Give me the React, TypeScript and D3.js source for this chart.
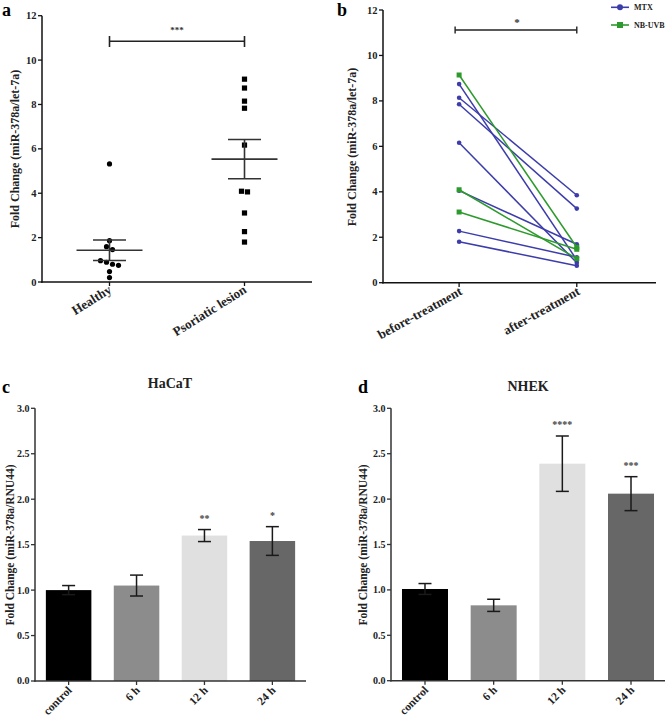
import React from "react";
import * as d3 from "d3";

// ---------- data ----------
const groupsA = ["Healthy", "Psoriatic lesion"];
const healthy = [5.32, 1.86, 1.59, 1.46, 0.96, 0.89, 0.8, 0.75, 0.47, 0.2];
const psoriatic = [9.14, 8.74, 8.15, 7.83, 6.17, 4.09, 4.06, 3.11, 2.27, 1.8];
const ticksA = [0, 2, 4, 6, 8, 10, 12];

const timepointsB = ["before-treatment", "after-treatment"];
const mtxBefore = [8.74, 8.14, 7.85, 6.16, 4.05, 2.27, 1.8];
const mtxAfter = [1.0, 3.85, 3.26, 0.88, 1.69, 1.12, 0.75];
const uvbBefore = [9.14, 4.09, 3.11];
const uvbAfter = [1.56, 1.06, 1.47];
const ticksB = [0, 2, 4, 6, 8, 10, 12];

const conditions = ["control", "6 h", "12 h", "24 h"];
const hacatMean = [1.0, 1.05, 1.6, 1.54];
const hacatSem = [0.05, 0.115, 0.066, 0.158];
const hacatStars = ["", "", "**", "*"];
const nhekMean = [1.01, 0.83, 2.39, 2.06];
const nhekSem = [0.06, 0.067, 0.305, 0.187];
const nhekStars = ["", "", "****", "***"];
const ticksCD = [0, 0.5, 1, 1.5, 2, 2.5, 3];
const barColors = ["#000000", "#8c8c8c", "#e0e0e0", "#676767"];

const MTX_COLOR = "#3c3cab";
const UVB_COLOR = "#2d9a2d";
const FONT = "'Liberation Serif', 'Times New Roman', serif";

// beeswarm-like binning: groups of close values spread horizontally
function spread(values: number[], bin: number, step: number) {
  const idx = values.map((v, i) => i).sort((a, b) => values[b] - values[a]);
  const off = new Array(values.length).fill(0);
  let i = 0;
  while (i < idx.length) {
    let j = i + 1;
    while (j < idx.length && values[idx[i]] - values[idx[j]] < bin) j++;
    const n = j - i;
    for (let k = 0; k < n; k++) off[idx[i + k]] = (k - (n - 1) / 2) * step;
    i = j;
  }
  return off;
}

function YAxis({ scale, ticks, x, fmt, size = 10, color = "#111" }: any) {
  const [r0, r1] = scale.range();
  return (
    <g>
      <line x1={x} x2={x} y1={r0 + 0.75} y2={r1} stroke={color} strokeWidth={1.5} />
      {ticks.map((t: number) => (
        <g key={t}>
          <line x1={x - 4} x2={x} y1={scale(t)} y2={scale(t)} stroke={color} strokeWidth={1.3} />
          <text x={x - 5.5} y={scale(t)} dy="0.34em" textAnchor="end" fontSize={size} fontWeight="bold" fill="#222">
            {fmt(t)}
          </text>
        </g>
      ))}
    </g>
  );
}

function PanelA() {
  const y = d3.scaleLinear().domain([0, 12]).range([282, 15.7]);
  const x = d3.scalePoint().domain(groupsA).range([42, 312]).padding(0.5);
  const series = [healthy, psoriatic];
  return (
    <g>
      <text x={2} y={16} fontSize={18} fontWeight="bold">a</text>
      <YAxis scale={y} ticks={ticksA} x={42} fmt={(d: number) => String(d)} size={10.5} />
      <line x1={41.25} x2={312} y1={282} y2={282} stroke="#111" strokeWidth={1.5} />
      {groupsA.map((g) => (
        <g key={g}>
          <line x1={x(g)} x2={x(g)} y1={282} y2={286} stroke="#111" strokeWidth={1.3} />
          <text transform={`translate(${x(g)! + 3},${292}) rotate(-32)`} textAnchor="end" fontSize={13} fontWeight="bold" fill="#222">
            {g}
          </text>
        </g>
      ))}
      <text transform="translate(19,149) rotate(-90)" textAnchor="middle" fontSize={12} fontWeight="bold" fill="#222">
        Fold Change (miR-378a/let-7a)
      </text>
      {series.map((vals, si) => {
        const cx = x(groupsA[si])!;
        const off = spread(vals, 0.25, 6);
        const m = d3.mean(vals)!;
        const sem = d3.deviation(vals)! / Math.sqrt(vals.length);
        return (
          <g key={si}>
            {vals.map((v, i) =>
              si === 0 ? (
                <circle key={i} cx={cx + off[i]} cy={y(v)} r={2.6} fill="#000" />
              ) : (
                <rect key={i} x={cx + off[i] - 2.6} y={y(v) - 2.6} width={5.2} height={5.2} fill="#000" />
              )
            )}
            <line x1={cx - 33} x2={cx + 33} y1={y(m)} y2={y(m)} stroke="#333" strokeWidth={1.6} />
            <line x1={cx} x2={cx} y1={y(m - sem)} y2={y(m + sem)} stroke="#333" strokeWidth={1.6} />
            <line x1={cx - 16.5} x2={cx + 16.5} y1={y(m - sem)} y2={y(m - sem)} stroke="#333" strokeWidth={1.6} />
            <line x1={cx - 16.5} x2={cx + 16.5} y1={y(m + sem)} y2={y(m + sem)} stroke="#333" strokeWidth={1.6} />
          </g>
        );
      })}
      <line x1={x(groupsA[0])} x2={x(groupsA[1])} y1={41.3} y2={41.3} stroke="#222" strokeWidth={1.6} />
      <line x1={x(groupsA[0])} x2={x(groupsA[0])} y1={36} y2={47} stroke="#222" strokeWidth={1.6} />
      <line x1={x(groupsA[1])} x2={x(groupsA[1])} y1={36} y2={47} stroke="#222" strokeWidth={1.6} />
      <text x={177} y={33} textAnchor="middle" fontSize={9} fontWeight="bold" fill="#333">***</text>
    </g>
  );
}

function PanelB() {
  const y = d3.scaleLinear().domain([0, 12]).range([282.7, 10]);
  const x = d3.scalePoint().domain(timepointsB).range([383, 656]).padding(0.66).align(0.49);
  const x0 = x(timepointsB[0])!;
  const x1 = x(timepointsB[1])!;
  return (
    <g>
      <text x={337} y={16} fontSize={18} fontWeight="bold">b</text>
      <YAxis scale={y} ticks={ticksB} x={383} fmt={(d: number) => String(d)} size={10.5} />
      <line x1={382.25} x2={656} y1={282.7} y2={282.7} stroke="#111" strokeWidth={1.5} />
      {timepointsB.map((g) => (
        <g key={g}>
          <line x1={x(g)} x2={x(g)} y1={282.7} y2={287} stroke="#111" strokeWidth={1.3} />
          <text transform={`translate(${x(g)! + 4},${294}) rotate(-29)`} textAnchor="end" fontSize={13} fontWeight="bold" fill="#222">
            {g}
          </text>
        </g>
      ))}
      <text transform="translate(356,147) rotate(-90)" textAnchor="middle" fontSize={12} fontWeight="bold" fill="#222">
        Fold Change (miR-378a/let-7a)
      </text>
      {mtxBefore.map((v, i) => (
        <g key={"m" + i}>
          <line x1={x0} x2={x1} y1={y(v)} y2={y(mtxAfter[i])} stroke={MTX_COLOR} strokeWidth={1.5} />
          <circle cx={x0} cy={y(v)} r={2.3} fill={MTX_COLOR} />
          <circle cx={x1} cy={y(mtxAfter[i])} r={2.3} fill={MTX_COLOR} />
        </g>
      ))}
      {uvbBefore.map((v, i) => (
        <g key={"u" + i}>
          <line x1={x0} x2={x1} y1={y(v)} y2={y(uvbAfter[i])} stroke={UVB_COLOR} strokeWidth={1.5} />
          <rect x={x0 - 2.5} y={y(v) - 2.5} width={5} height={5} fill={UVB_COLOR} />
          <rect x={x1 - 2.5} y={y(uvbAfter[i]) - 2.5} width={5} height={5} fill={UVB_COLOR} />
        </g>
      ))}
      <line x1={x0 - 4} x2={x1} y1={30} y2={30} stroke="#222" strokeWidth={1.4} />
      <line x1={x0 - 4} x2={x0 - 4} y1={26.5} y2={33.5} stroke="#222" strokeWidth={1.4} />
      <line x1={x1} x2={x1} y1={26.5} y2={33.5} stroke="#222" strokeWidth={1.4} />
      <text x={517} y={26} textAnchor="middle" fontSize={11} fontWeight="bold" fill="#333">*</text>
      {/* legend */}
      <line x1={611} x2={629} y1={7.3} y2={7.3} stroke={MTX_COLOR} strokeWidth={1.6} />
      <circle cx={620} cy={7.3} r={3} fill={MTX_COLOR} />
      <text x={634} y={10} fontSize={8} fontWeight="bold" fill="#222">MTX</text>
      <line x1={611} x2={629} y1={25} y2={25} stroke={UVB_COLOR} strokeWidth={1.6} />
      <rect x={617} y={22} width={6} height={6} fill={UVB_COLOR} />
      <text x={634} y={27.8} fontSize={8} fontWeight="bold" fill="#222">NB-UVB</text>
    </g>
  );
}

function BarPanel({ letter, title, titleX, titleY, axisX, axisEnd, y0, y3, means, sems, stars, labelX }: any) {
  const y = d3.scaleLinear().domain([0, 3]).range([y0, y3]);
  const x = d3.scaleBand().domain(conditions).range([axisX, axisEnd]).paddingInner(0.33).paddingOuter(0.16);
  const bw = x.bandwidth();
  const ax = "#333";
  return (
    <g>
      <text x={axisX - 33} y={393} fontSize={18} fontWeight="bold">{letter}</text>
      <text x={titleX} y={titleY} textAnchor="middle" fontSize={14} fontWeight="bold" fill="#222">{title}</text>
      {conditions.map((c, i) => {
        const cx = x(c)! + bw / 2;
        return (
          <g key={c}>
            <rect x={x(c)} y={y(means[i])} width={bw} height={y(0) - y(means[i])} fill={barColors[i]} />
            <line x1={cx} x2={cx} y1={y(means[i] - sems[i])} y2={y(means[i] + sems[i])} stroke="#1a1a1a" strokeWidth={1.5} />
            <line x1={cx - 6.5} x2={cx + 6.5} y1={y(means[i] + sems[i])} y2={y(means[i] + sems[i])} stroke="#1a1a1a" strokeWidth={1.5} />
            <line x1={cx - 6.5} x2={cx + 6.5} y1={y(means[i] - sems[i])} y2={y(means[i] - sems[i])} stroke="#1a1a1a" strokeWidth={1.5} />
            {stars[i] && (
              <text x={cx} y={y(means[i] + sems[i]) - 8} textAnchor="middle" fontSize={10} fontWeight="bold" fill="#444">
                {stars[i]}
              </text>
            )}
            <line x1={cx} x2={cx} y1={y0} y2={y0 + 4} stroke={ax} strokeWidth={1.3} />
            <text transform={`translate(${cx + 4},${y0 + 10}) rotate(-45)`} textAnchor="end" fontSize={11.5} fontWeight="bold" fill="#222">
              {c}
            </text>
          </g>
        );
      })}
      <YAxis scale={y} ticks={ticksCD} x={axisX} fmt={d3.format(".1f")} size={10} color={ax} />
      <line x1={axisX - 0.75} x2={axisEnd} y1={y0} y2={y0} stroke={ax} strokeWidth={1.5} />
      <text transform={`translate(${labelX},545) rotate(-90)`} textAnchor="middle" fontSize={11.5} fontWeight="bold" fill="#222">
        Fold Change (miR-378a/RNU44)
      </text>
    </g>
  );
}

export default function App() {
  return (
    <svg width={669} height={720} style={{ display: "block", position: "absolute", left: 0, top: 0, background: "#fff" }} fontFamily={FONT}>
      <rect width={669} height={720} fill="#fff" />
      <PanelA />
      <PanelB />
      <BarPanel letter="c" title="HaCaT" titleX={170} titleY={388} axisX={35} axisEnd={306} y0={681} y3={408.3}
        means={hacatMean} sems={hacatSem} stars={hacatStars} labelX={14} />
      <BarPanel letter="d" title="NHEK" titleX={528} titleY={391} axisX={391} axisEnd={665} y0={680.7} y3={408.3}
        means={nhekMean} sems={nhekSem} stars={nhekStars} labelX={367} />
    </svg>
  );
}
